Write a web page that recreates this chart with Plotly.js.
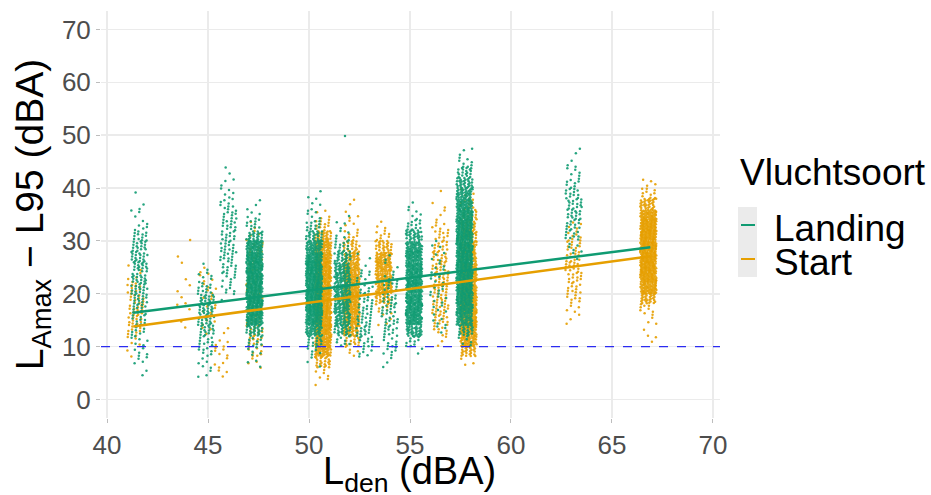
<!DOCTYPE html>
<html>
<head>
<meta charset="utf-8">
<script src="https://cdn.plot.ly/plotly-3.0.1.min.js"></script>
<style>html,body{margin:0;padding:0;background:#fff;}#chart{width:931px;height:495px;}</style>
</head>
<body>
<div id="chart"></div>
<script>
// ---- Data ----
// Each cluster: Lden centre, lowest y-bin edge, and point counts per 2-dBA bin of (LAmax - L95)
const binWidth = 2;

const landingLden = [41.6, 44.9, 46.0, 47.3, 50.25, 51.65, 52.75, 54.0, 55.2, 56.4, 57.7, 63.1];
const landingLow  = [4, 4, 18, 6, 6, 10, 8, 6, 8, 12, 10, 26];
const landingCounts = [
  [2,4,5,6,8,10,12,14,16,18,18,18,16,12,6,3,2,1],
  [3,5,8,10,16,18,20,18,12,6,2],
  [2,6,8,10,12,12,12,12,10,8,5,3,2],
  [3,5,10,25,60,70,70,70,70,70,65,55,25,10,5,2],
  [3,6,15,40,60,70,70,70,70,70,60,45,25,12,6,3,2],
  [8,25,35,40,40,40,40,35,25,12,6,3,1,0,0,0,0,0,0,1],
  [6,10,14,14,12,10,8,6,3,2],
  [3,6,8,10,12,12,12,10,6,3,2],
  [2,10,35,55,60,60,60,60,60,55,45,30,12,5,2],
  [3,4,5,5,6,6,5,4,3],
  [6,20,45,60,65,70,70,70,70,70,70,65,60,50,40,30,18,8,3],
  [2,5,10,12,14,14,12,8,5,3,2]
];

const startLden = [41.4, 43.8, 45.0, 45.7, 47.3, 50.7, 52.1, 53.7, 56.5, 57.9, 63.1, 66.8];
const startLow  = [8, 12, 12, 4, 6, 2, 8, 14, 10, 6, 14, 10];
const startCounts = [
  [2,4,8,12,14,12,10,4,2],
  [1,1,2,2,2,1,1,1,0,1],
  [3,4,5,5,5,4,2],
  [3,4,5,4,2],
  [4,8,10,12,15,15,15,15,12,10,8,6,4,2],
  [2,5,20,45,55,55,60,60,60,60,60,60,55,45,30,12,4],
  [5,15,35,45,50,50,50,50,45,35,20,8,4,3,2],
  [3,8,25,40,45,45,40,25,8,3],
  [3,8,12,14,14,14,14,14,14,12,10,6,3,2,1],
  [3,25,45,55,60,60,60,55,50,45,40,35,30,25,18,10,4],
  [2,5,8,10,12,12,12,10,8,4],
  [2,2,3,8,30,55,65,70,70,70,70,65,55,30,10,4]
];

// Linear fits per flight type
const landingFitX = [41.3, 66.9];
const landingFitY = [16.4, 28.8];
const startFitX = [41.3, 66.9];
const startFitY = [13.8, 27.1];

const thresholdY = 10;

const xTicks = [40, 45, 50, 55, 60, 65, 70];
const yTicks = [0, 10, 20, 30, 40, 50, 60, 70];

const xTitle = 'L<sub>den</sub> (dBA)';
const yTitle = 'L<sub>Amax</sub> − L95 (dBA)';
const legendTitle = 'Vluchtsoort';
const seriesNames = ['Landing', 'Start'];

// ---- Rendering ----
const GREEN = '#0F9B72';
const ORANGE = '#E69F00';
const JITTER = 0.4; // half-width of visual jitter (style)
const FONT = 'Liberation Sans, Arial, sans-serif';

function frac(v){ return v - Math.floor(v); }
function buildPoints(centers, lows, counts, seed){
  const xs = [], ys = [];
  let n = seed;
  for (let c = 0; c < centers.length; c++){
    const row = counts[c];
    for (let k = 0; k < row.length; k++){
      for (let j = 0; j < row[k]; j++){
        n++;
        const u = frac(0.5 + n * 0.7548776662);
        const v = frac(0.5 + n * 0.5698402910);
        xs.push(centers[c] + (u - 0.5) * 2 * JITTER);
        ys.push(lows[c] + k * binWidth + v * binWidth);
      }
    }
  }
  return {x: xs, y: ys};
}

const sp = buildPoints(startLden, startLow, startCounts, 0);
const lp = buildPoints(landingLden, landingLow, landingCounts, 7777);

const traces = [
  {x: sp.x, y: sp.y, type: 'scatter', mode: 'markers', name: seriesNames[1], hoverinfo: 'skip',
   marker: {color: ORANGE, size: 2.5, opacity: 0.9}},
  {x: lp.x, y: lp.y, type: 'scatter', mode: 'markers', name: seriesNames[0], hoverinfo: 'skip',
   marker: {color: GREEN, size: 2.5, opacity: 0.9}},
  {x: startFitX, y: startFitY, type: 'scatter', mode: 'lines', name: seriesNames[1] + ' fit',
   line: {color: ORANGE, width: 2.5}},
  {x: landingFitX, y: landingFitY, type: 'scatter', mode: 'lines', name: seriesNames[0] + ' fit',
   line: {color: GREEN, width: 2.5}}
];

const W = 931, H = 495, ML = 101, MR = 211, MT = 11, MB = 77;
const pw = W - ML - MR, ph = H - MT - MB;
const px = v => (v - ML) / pw;
const py = v => (H - MB - v) / ph;

const axisCommon = {
  showgrid: true, gridcolor: '#EBEBEB', gridwidth: 1.5, zeroline: false, showline: false,
  ticks: 'outside', ticklen: 4, tickwidth: 1, tickcolor: '#BDBDBD',
  tickfont: {size: 26, color: '#4D4D4D', family: FONT}
};

const layout = {
  width: W, height: H,
  margin: {l: ML, r: MR, t: MT, b: MB},
  paper_bgcolor: '#FFFFFF', plot_bgcolor: '#FFFFFF',
  font: {family: FONT, color: '#000'},
  showlegend: false,
  xaxis: Object.assign({}, axisCommon, {
    range: [39.7, 70.35], tickvals: xTicks, ticktext: xTicks.map(String)
  }),
  yaxis: Object.assign({}, axisCommon, {
    range: [-3.5, 73.5], tickvals: yTicks, ticktext: yTicks.map(String),
    title: {text: yTitle, font: {size: 39, color: '#000'}, standoff: 6}
  }),
  annotations: [
    {xref: 'paper', yref: 'paper', x: px(409), y: py(474), xanchor: 'center', yanchor: 'middle',
     text: xTitle, showarrow: false, font: {size: 38, color: '#000', family: FONT}},
    {xref: 'paper', yref: 'paper', x: px(738), y: py(172), xanchor: 'left', yanchor: 'middle',
     text: legendTitle, showarrow: false, font: {size: 37, color: '#000', family: FONT}},
    {xref: 'paper', yref: 'paper', x: px(772), y: py(228), xanchor: 'left', yanchor: 'middle',
     text: seriesNames[0], showarrow: false, font: {size: 37, color: '#000', family: FONT}},
    {xref: 'paper', yref: 'paper', x: px(772), y: py(262), xanchor: 'left', yanchor: 'middle',
     text: seriesNames[1], showarrow: false, font: {size: 37, color: '#000', family: FONT}}
  ],
  shapes: [
    {type: 'line', xref: 'paper', x0: 0, x1: 1, yref: 'y', y0: thresholdY, y1: thresholdY,
     line: {color: '#2B2BF0', width: 1.2, dash: 'dash'}},
    {type: 'rect', xref: 'paper', yref: 'paper', x0: px(738), x1: px(757), y0: py(277), y1: py(207),
     fillcolor: '#EBEBEB', line: {width: 0}, layer: 'below'},
    {type: 'line', xref: 'paper', yref: 'paper', x0: px(741), x1: px(755), y0: py(225), y1: py(225),
     line: {color: GREEN, width: 2}},
    {type: 'line', xref: 'paper', yref: 'paper', x0: px(741), x1: px(755), y0: py(259), y1: py(259),
     line: {color: ORANGE, width: 2}}
  ]
};

Plotly.newPlot('chart', traces, layout, {displayModeBar: false, staticPlot: true});
</script>
</body>
</html>
